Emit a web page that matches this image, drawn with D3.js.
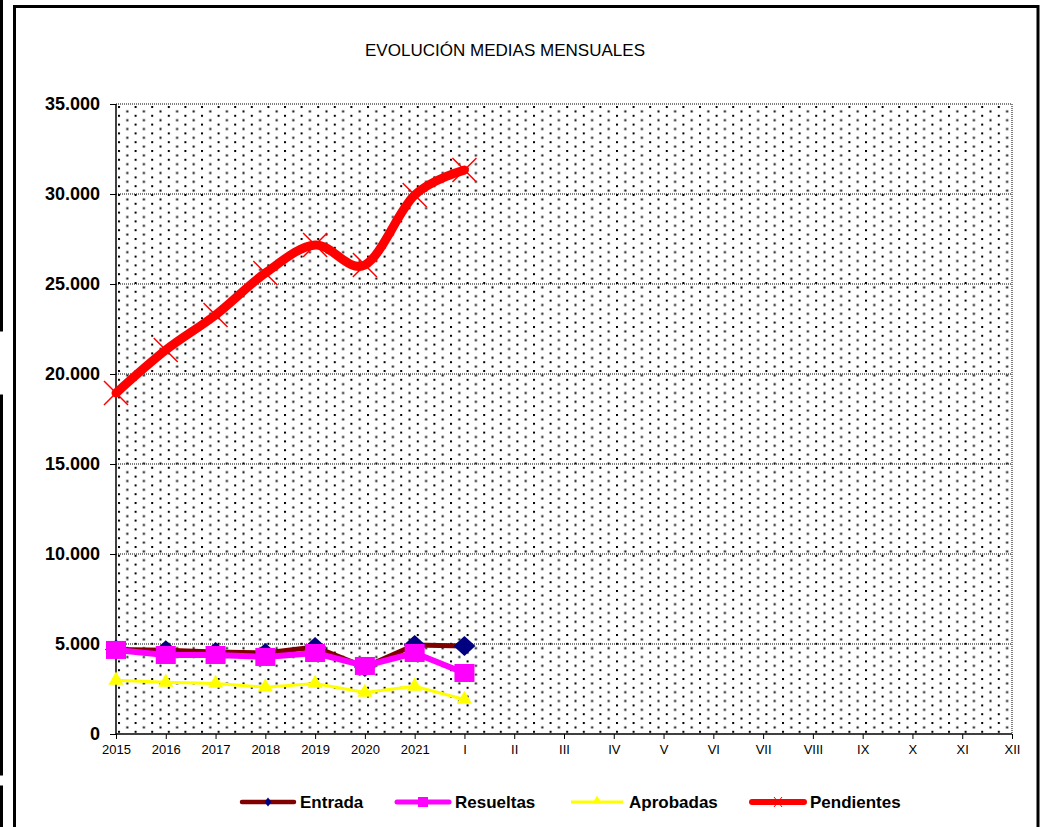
<!DOCTYPE html>
<html lang="es">
<head>
<meta charset="UTF-8">
<title>Evolución medias mensuales</title>
<script src="https://cdn.jsdelivr.net/npm/d3@7"></script>
<style>
  body { margin: 0; background: #fff; }
  svg { display: block; }
  .ylab { font: bold 18px "Liberation Sans", Arial, sans-serif; }
  .xlab { font: 13px "Liberation Sans", Arial, sans-serif; }
  .title { font: 17px "Liberation Sans Narrow", "Arial Narrow", "Liberation Sans", sans-serif; }
  .leg { font: bold 17px "Liberation Sans", Arial, sans-serif; }
</style>
</head>
<body>
<svg id="chart" width="1041" height="827"></svg>
<script>
// categories and series (monthly means)
const categories = ["2015", "2016", "2017", "2018", "2019", "2020", "2021",
  "I", "II", "III", "IV", "V", "VI", "VII", "VIII", "IX", "X", "XI", "XII"];
const entrada    = [4700, 4650, 4560, 4500, 4830, 3720, 4940, 4890];
const resueltas  = [4670, 4390, 4390, 4280, 4500, 3780, 4500, 3390];
const aprobadas  = [2980, 2870, 2810, 2600, 2810, 2310, 2650, 1920];
const pendientes = [18940, 21330, 23280, 25610, 27170, 26060, 29940, 31330];
const yTicks = [0, 5000, 10000, 15000, 20000, 25000, 30000, 35000];
const seriesNames = ["Entrada", "Resueltas", "Aprobadas", "Pendientes"];

const svg = d3.select("#chart");
const pLeft = 116, pRight = 1012, pTop = 104, pBottom = 734;

const x = d3.scalePoint().domain(categories).range([pLeft, pRight]);
const y = d3.scaleLinear().domain([0, 35000]).range([pBottom, pTop]);
const esLocale = d3.formatLocale({ decimal: ",", thousands: ".", grouping: [3], currency: ["", "€"] });
const fmt = esLocale.format(",d");

// neighbouring frames cut at the left edge
svg.append("path").attr("d", "M1.5,0V330H0").attr("fill", "none").attr("stroke", "#000").attr("stroke-width", 3);
svg.append("path").attr("d", "M0,396H1.5V774H0").attr("fill", "none").attr("stroke", "#000").attr("stroke-width", 3);
svg.append("path").attr("d", "M0,787H1.5V827").attr("fill", "none").attr("stroke", "#000").attr("stroke-width", 3);

// chart frame
svg.append("path").attr("d", "M14.5,840V6.5H1038V840")
  .attr("fill", "none").attr("stroke", "#000").attr("stroke-width", 3);

// title (narrow face squeezed to the original width)
svg.append("text").attr("class", "title")
  .attr("x", 365).attr("y", 56)
  .attr("textLength", 280).attr("lengthAdjust", "spacingAndGlyphs")
  .text("EVOLUCIÓN MEDIAS MENSUALES");

// dotted fill pattern of the plot area
const pat = svg.append("defs").append("pattern")
  .attr("id", "dots").attr("patternUnits", "userSpaceOnUse")
  .attr("x", pLeft + 2).attr("y", pTop + 2)
  .attr("width", 16.6).attr("height", 8.8);
pat.append("rect").attr("x", 0).attr("y", 0).attr("width", 2).attr("height", 2).attr("fill", "#000");
pat.append("rect").attr("x", 8.3).attr("y", 4.4).attr("width", 2).attr("height", 2).attr("fill", "#000");

svg.append("rect")
  .attr("x", pLeft).attr("y", pTop)
  .attr("width", pRight - pLeft).attr("height", pBottom - pTop)
  .attr("fill", "url(#dots)");

// dotted gridlines + right edge
svg.append("g").selectAll("line").data(yTicks.slice(1)).join("line")
  .attr("x1", pLeft).attr("x2", pRight)
  .attr("y1", d => y(d)).attr("y2", d => y(d))
  .attr("stroke", "#000").attr("stroke-width", 1).attr("stroke-dasharray", "1,1");
svg.append("line")
  .attr("x1", pRight).attr("x2", pRight).attr("y1", pTop).attr("y2", pBottom)
  .attr("stroke", "#000").attr("stroke-dasharray", "1,1");

// axes
const yAxis = svg.append("g").attr("transform", `translate(${pLeft},0)`)
  .call(d3.axisLeft(y).tickValues(yTicks).tickFormat(fmt).tickSize(6).tickPadding(10));
yAxis.selectAll("text").attr("class", "ylab").attr("fill", "#000");
const xAxis = svg.append("g").attr("transform", `translate(0,${pBottom})`)
  .call(d3.axisBottom(x).tickSize(5).tickPadding(6));
xAxis.selectAll("text").attr("class", "xlab").attr("fill", "#000");
yAxis.attr("font-size", null).attr("font-family", null);
xAxis.attr("font-size", null).attr("font-family", null);
svg.selectAll(".domain").attr("stroke", "#000").attr("stroke-width", 1.5);
svg.selectAll(".tick line").attr("stroke", "#000");
yAxis.select(".domain").attr("d", `M0,${pTop}V${pBottom}`);
xAxis.select(".domain").attr("d", `M${pLeft},0H${pRight}`);

const pts = vals => vals.map((v, i) => [x(categories[i]), y(v)]);
const straight = d3.line();
const smooth = d3.line().curve(d3.curveCardinal.tension(0));
const diamond = (cx, cy, hw, hh) => `M${cx},${cy - hh}L${cx + hw},${cy}L${cx},${cy + hh}L${cx - hw},${cy}Z`;

// Entrada
svg.append("path").attr("d", straight(pts(entrada)))
  .attr("fill", "none").attr("stroke", "#800000").attr("stroke-width", 5).attr("stroke-linejoin", "round");
svg.append("g").selectAll("path").data(pts(entrada)).join("path")
  .attr("d", d => diamond(d[0], d[1], 11, 10)).attr("fill", "#000080");

// Resueltas
svg.append("path").attr("d", straight(pts(resueltas)))
  .attr("fill", "none").attr("stroke", "#ff00ff").attr("stroke-width", 6).attr("stroke-linejoin", "round");
svg.append("g").selectAll("rect").data(pts(resueltas)).join("rect")
  .attr("x", d => d[0] - 10).attr("y", d => d[1] - 9)
  .attr("width", 20).attr("height", 18).attr("fill", "#ff00ff");

// Aprobadas
svg.append("path").attr("d", straight(pts(aprobadas)))
  .attr("fill", "none").attr("stroke", "#ffff00").attr("stroke-width", 3).attr("stroke-linejoin", "round");
svg.append("g").selectAll("path").data(pts(aprobadas)).join("path")
  .attr("transform", d => `translate(${d[0]},${d[1]})`)
  .attr("d", d3.symbol(d3.symbolTriangle, 100)).attr("fill", "#ffff00");

// Pendientes
svg.append("path").attr("d", smooth(pts(pendientes)))
  .attr("fill", "none").attr("stroke", "#ff0000").attr("stroke-width", 9).attr("stroke-linecap", "round");
svg.append("g").selectAll("path").data(pts(pendientes)).join("path")
  .attr("d", d => `M${d[0] - 12},${d[1] - 12}L${d[0] + 12},${d[1] + 12}M${d[0] - 12},${d[1] + 12}L${d[0] + 12},${d[1] - 12}`)
  .attr("stroke", "#ff0000").attr("stroke-width", 1.5);

// legend
const legX = [240, 395, 569, 750];
const legY = 802;
const leg = svg.append("g");
seriesNames.forEach((name, i) => {
  const g = leg.append("g").attr("transform", `translate(${legX[i]},${legY})`);
  const col = ["#800000", "#ff00ff", "#ffff00", "#ff0000"][i];
  const w = [4.5, 5, 3, 6][i];
  g.append("line").attr("x1", 2).attr("x2", 54).attr("stroke", col)
    .attr("stroke-width", w).attr("stroke-linecap", i === 2 ? "butt" : "round");
  if (i === 0) g.append("path").attr("d", diamond(28, 0, 3.5, 4.5)).attr("fill", "#000080");
  if (i === 1) g.append("rect").attr("x", 23).attr("y", -5).attr("width", 10).attr("height", 10).attr("fill", "#ff00ff");
  if (i === 2) g.append("path").attr("transform", "translate(28,-1)").attr("d", d3.symbol(d3.symbolTriangle, 40)).attr("fill", "#ffff00");
  if (i === 3) g.append("path").attr("d", "M24,-5L32,5M24,5L32,-5").attr("stroke", "#ff0000").attr("stroke-width", 1);
  g.append("text").attr("class", "leg").attr("x", 60).attr("dy", "0.36em").text(name);
});
</script>
</body>
</html>
